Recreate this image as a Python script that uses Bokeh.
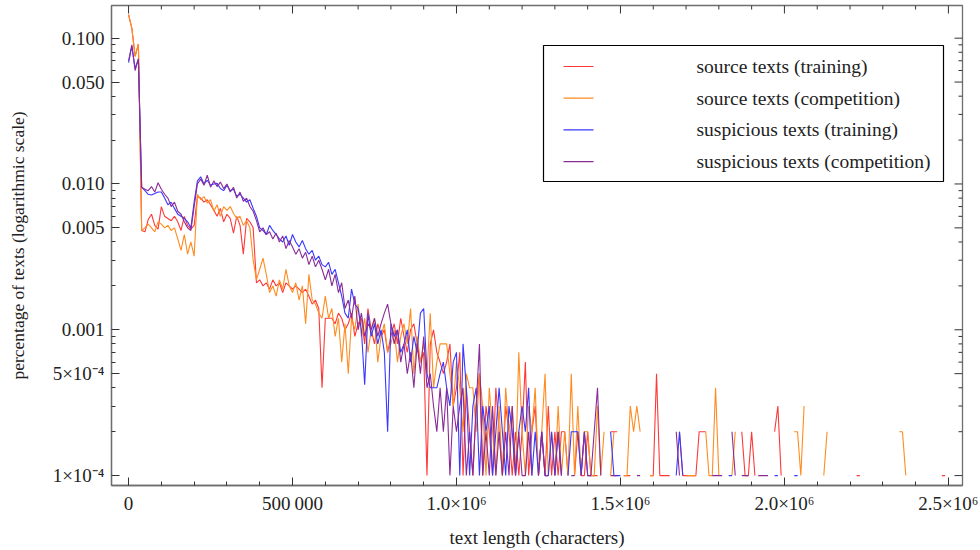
import math
from bokeh.plotting import figure
from bokeh.models import (ColumnDataSource, Range1d, FixedTicker, BoxAnnotation, Label, Arrow)
from bokeh.embed import file_html
from bokeh.resources import INLINE

N = None
BIN = 10000          # text-length bin width (characters)
NBINS = 255

# ---- series values (fraction of texts per 10 000-character bin; None = empty bin) ----
source_training = [
    0.145, 0.117, 0.075, 0.091, 0.0048, 0.0047, 0.0057, 0.0062, 0.0052, 0.0049,
    0.0070, 0.0060, 0.0058, 0.0056, 0.0060, 0.0055, 0.0048, 0.0060, 0.0052, 0.0049,
    0.0052, 0.0082, 0.0080, 0.0075, 0.0078, 0.0072, 0.0066, 0.0060, 0.0068, 0.0055,
    0.0062, 0.0058, 0.0046, 0.0060, 0.0052, 0.0033, 0.0058, 0.0055, 0.0050, 0.0021,
    0.0022, 0.0020, 0.0021, 0.0019, 0.0022, 0.0020, 0.0021, 0.0018, 0.0021, 0.0020,
    0.0019, 0.0020, 0.0019, 0.0018, 0.0019, 0.0017, 0.0015, 0.0016, 0.0014, 0.0004,
    0.0012, 0.0012, 0.0012, 0.0011, 0.0013, 0.0012, 0.0010, 0.0011, 0.0013, 0.0009,
    0.0011, 0.0012, 0.0008, 0.0014, 0.0010, 0.0008, 0.0011, 0.0009, 0.0010, 0.0007,
    0.0009, 0.0011, 0.0008, 0.0012, 0.0009, 0.0007, 0.0010, 0.0011, 0.0008, 0.0006,
    0.0007, 0.0001, 0.0008, 0.0010, 0.0007, 0.0006, 0.0005, 0.0006, 0.0008, 0.0003,
    0.0004, 0.0007, 0.0001, 0.0004, 0.0002, 0.0001, 0.0003, 0.0005, 0.0001, 0.0003,
    0.0002, 0.0001, 0.0004, 0.0002, 0.0001, 0.0003, 0.0002, 0.0001, 0.0002, 0.0001,
    0.0002, 0.0006, 0.0001, 0.0002, 0.0003, 0.0001, 0.0002, 0.0001, 0.0003, 0.0001,
    0.0002, 0.0001, 0.0002, 0.0002, 0.0001, N, 0.0001, 0.0002, 0.0001, 0.0001,
    0.0002, 0.0001, 0.0001, 0.0001, N, N, N, 0.0002, 0.0002, 0.0002,
    N, 0.0001, 0.0001, 0.0001, N, N, N, N, N, 0.0001,
    0.0001, 0.0005, 0.0001, 0.0001, 0.0001, 0.0001, N, N, 0.0002, 0.0001,
    0.0001, 0.0001, 0.0001, 0.0001, 0.0002, 0.0002, 0.0002, N, N, N,
    N, N, N, N, N, N, N, 0.0002, 0.0001, 0.0001,
    0.0002, 0.0001, N, N, N, N, N, 0.0002, 0.0003, 0.0001,
    N, N, N, N, N, N, N, N, N, N,
    N, N, N, N, N, N, N, N, N, N,
    N, N, 0.0001, 0.0001, N, N, N, N, N, N,
    N, N, N, N, N, N, N, N, N, N,
    N, N, N, N, N, N, N, N, 0.0001, 0.0001,
]

source_competition = [
    0.145, 0.117, 0.075, 0.091, 0.0048, 0.0050, 0.0053, 0.0050, 0.0047, 0.0055,
    0.0053, 0.0050, 0.0052, 0.0048, 0.0050, 0.0042, 0.0035, 0.0045, 0.0033, 0.0040,
    0.0032, 0.0085, 0.0078, 0.0082, 0.0074, 0.0078, 0.0065, 0.0072, 0.0060, 0.0070,
    0.0066, 0.0070, 0.0063, 0.0058, 0.0060, 0.0052, 0.0056, 0.0050, 0.0030, 0.0022,
    0.0026, 0.0031, 0.0024, 0.0018, 0.0020, 0.0017, 0.0022, 0.0019, 0.0026, 0.0020,
    0.0018, 0.0021, 0.0016, 0.0020, 0.0011, 0.0024, 0.0016, 0.0015, 0.0013, 0.0012,
    0.0017, 0.0012, 0.0014, 0.0009, 0.0012, 0.0006, 0.0011, 0.0005, 0.0012, 0.0010,
    0.0015, 0.0009, 0.0012, 0.0007, 0.0010, 0.0012, 0.0006, 0.0009, 0.0011, 0.0007,
    0.0008, 0.0010, 0.0006, 0.0009, 0.0011, 0.0008, 0.0014, 0.0005, 0.0009, 0.0006,
    0.0008, 0.0005, 0.0013, 0.0004, 0.0006, 0.0008, 0.0008, 0.0008, 0.0005, 0.0003,
    0.0006, 0.0004, 0.0002, 0.0005, 0.0004, 0.0004, 0.0002, 0.0005, 0.0003, 0.0001,
    0.0004, 0.0002, 0.0001, 0.0003, 0.0001, 0.0004, 0.0002, 0.0003, 0.0001, 0.0007,
    0.0002, 0.0001, 0.0003, 0.0002, 0.0004, 0.0001, 0.0002, 0.0005, 0.0001, 0.0002,
    0.0001, 0.0003, 0.0001, 0.0002, 0.0001, 0.0005, 0.0001, 0.0003, 0.0001, 0.0002,
    0.0002, 0.0001, 0.0001, 0.0003, 0.0001, 0.0002, N, 0.0001, 0.0002, N,
    N, 0.0001, 0.0001, 0.0003, 0.0002, 0.0003, 0.0002, N, N, 0.0001,
    0.0001, N, N, N, N, N, N, N, N, N,
    0.0001, 0.0001, 0.0001, 0.0001, N, N, 0.0002, 0.0001, 0.0001, 0.0004,
    0.0001, N, N, N, 0.0001, 0.0002, N, N, N, N,
    N, N, N, N, N, N, N, N, N, N,
    N, N, N, 0.0002, 0.0002, 0.0001, 0.0003, N, N, N,
    N, N, 0.0001, 0.0002, N, N, N, N, N, N,
    N, N, N, N, N, N, N, N, N, N,
    N, N, N, N, N, 0.0002, 0.0002, 0.0001, N, N,
]

suspicious_training = [
    0.068, 0.088, 0.062, 0.072, 0.0095, 0.0090, 0.0085, 0.0084, 0.0086, 0.0088,
    0.0088, 0.0080, 0.0072, 0.0075, 0.0068, 0.0062, 0.0060, 0.0058, 0.0055, 0.0050,
    0.0075, 0.0105, 0.0112, 0.0100, 0.0106, 0.0098, 0.0100, 0.0101, 0.0093, 0.0090,
    0.0098, 0.0090, 0.0092, 0.0082, 0.0085, 0.0080, 0.0075, 0.0078, 0.0068, 0.0060,
    0.0050, 0.0048, 0.0045, 0.0052, 0.0048, 0.0045, 0.0042, 0.0040, 0.0044, 0.0038,
    0.0045, 0.0040, 0.0037, 0.0041, 0.0036, 0.0033, 0.0035, 0.0030, 0.0032, 0.0028,
    0.0027, 0.0029, 0.0024, 0.0026, 0.0021, 0.0017, 0.0013, 0.0012, 0.0019, 0.0015,
    0.0014, 0.0010, 0.00042, 0.0013, 0.0009, 0.0011, 0.0008, 0.0010, 0.0007, 0.0002,
    0.0011, 0.0009, 0.0010, 0.0007, 0.0008, 0.0010, 0.0006, 0.0009, 0.0007, 0.0013,
    0.0014, 0.0005, 0.0004, 0.0004, 0.0004, 0.0005, 0.0006, 0.0004, 0.0003, 0.0006,
    0.0007, 0.0001, 0.0008, 0.0004, 0.0001, 0.0003, 0.0004, 0.0001, 0.0003, 0.0002,
    0.0003, 0.0001, 0.0002, 0.0004, 0.0002, 0.0001, 0.0003, 0.0002, 0.0001, 0.0002,
    0.0003, 0.0002, 0.0004, 0.0001, 0.0002, 0.0001, 0.0002, 0.0001, 0.0001, 0.0002,
    0.0001, 0.0002, 0.0001, N, 0.0001, 0.0002, 0.0002, 0.0002, 0.0001, 0.0002,
    0.0001, 0.0001, N, N, N, N, N, 0.0002, 0.0001, 0.0001,
    0.0001, N, N, N, N, N, N, N, N, N,
    N, N, N, N, N, N, N, 0.0001, 0.0002, 0.0001,
    N, N, N, N, N, N, N, N, N, N,
    N, N, N, 0.0001, 0.0001, N, N, N, N, N,
    N, N, N, N, N, N, N, 0.0001, 0.0001, N,
    N, N, N, 0.0001, 0.0001, N, N, N, N, N,
]

suspicious_competition = [
    0.070, 0.090, 0.060, 0.072, 0.0095, 0.0092, 0.0090, 0.0096, 0.0088, 0.0102,
    0.0092, 0.0085, 0.0080, 0.0070, 0.0075, 0.0065, 0.0062, 0.0055, 0.0050, 0.0048,
    0.0070, 0.0100, 0.0108, 0.0098, 0.0115, 0.0095, 0.0105, 0.0096, 0.0103, 0.0093,
    0.0100, 0.0088, 0.0095, 0.0080, 0.0088, 0.0076, 0.0080, 0.0070, 0.0065, 0.0056,
    0.0047, 0.0050, 0.0045, 0.0047, 0.0042, 0.0046, 0.0040, 0.0044, 0.0036, 0.0041,
    0.0037, 0.0033, 0.0036, 0.0031, 0.0034, 0.0028, 0.0032, 0.0027, 0.0030, 0.0026,
    0.0022, 0.0026, 0.0020, 0.0024, 0.0018, 0.0021, 0.0014, 0.0016, 0.0012, 0.0017,
    0.0010, 0.0013, 0.0009, 0.0011, 0.0010, 0.0012, 0.0009, 0.0011, 0.0013, 0.0015,
    0.0011, 0.0008, 0.0010, 0.0006, 0.0008, 0.0005, 0.0007, 0.0004, 0.0008, 0.0005,
    0.0009, 0.0004, 0.0005, 0.0003, 0.0002, 0.0004, 0.0002, 0.0004, 0.0001, 0.0003,
    0.0002, 0.0003, 0.0004, 0.0001, 0.0002, 0.0001, 0.0003, 0.0008, 0.0001, 0.0002,
    0.0001, 0.0003, 0.0001, 0.0002, 0.0001, 0.0002, 0.0001, 0.0003, 0.0001, 0.0002,
    0.0001, 0.0001, 0.0002, 0.0001, N, 0.0001, 0.0002, 0.0001, 0.0001, N,
    0.0001, 0.0002, 0.0001, N, N, 0.0001, 0.0001, N, 0.0001, 0.0002,
    0.0001, 0.0001, 0.0002, 0.0004, 0.0001, N, N, 0.0001, 0.0001, 0.0001,
    N, N, N, N, N, 0.0001, 0.0001, N, N, N,
    N, N, N, N, N, N, N, 0.0002, 0.0001, N,
    N, N, N, N, N, N, N, N, 0.0001, 0.0001,
    0.0001, 0.0001, N, N, 0.0002, 0.0001, N, 0.0001, 0.0001, 0.0001,
    N, N, 0.0001, 0.0001, 0.0001, 0.0001, N, N, N, N,
]

series_names = ["source texts (training)", "source texts (competition)",
                "suspicious texts (training)", "suspicious texts (competition)"]
series_colors = ["#ff3838", "#ff8c20", "#3838ff", "#8a2c98"]

# ---- tick labels ----
x_ticks = [0, 500000, 1000000, 1500000, 2000000, 2500000]
x_tick_labels = ["0", "500\u2009000", "1.0\u00d710\u2076", "1.5\u00d710\u2076",
                 "2.0\u00d710\u2076", "2.5\u00d710\u2076"]
y_ticks = [0.0001, 0.0005, 0.001, 0.005, 0.01, 0.05, 0.1]
y_tick_labels = ["1\u00d710\u207b\u2074", "5\u00d710\u207b\u2074", "0.001", "0.005",
                 "0.010", "0.050", "0.100"]

x_minor = [k * 100000 for k in range(0, 26) if k % 5 != 0]
y_minor = [m * 10.0 ** e for e in (-4, -3, -2, -1) for m in (2, 3, 4, 6, 7, 8, 9)]

X0, X1 = -52000, 2543000
Y0, Y1 = 8.55e-5, 0.1675

FONT = "Liberation Serif"
TXT = "#222222"
FRAME = "#6e6e6e"
TICK = "#333333"


def prep(vals):
    vals = list(vals) + [None] * (NBINS - len(vals))
    xs = [i * BIN for i in range(NBINS)]
    ys = [float("nan") if v is None else v for v in vals]
    return ColumnDataSource(dict(x=xs, y=ys))


p = figure(width=980, height=550, output_backend="svg", toolbar_location=None,
           y_axis_type="log",
           x_range=Range1d(X0, X1), y_range=Range1d(Y0, Y1),
           min_border_left=111, min_border_right=18, min_border_top=5,
           min_border_bottom=62)
p.xgrid.grid_line_color = None
p.ygrid.grid_line_color = None
p.outline_line_color = FRAME
p.outline_line_width = 1.3
p.background_fill_color = "white"
p.border_fill_color = "white"

for vals, col in zip([source_training, source_competition,
                      suspicious_training, suspicious_competition], series_colors):
    p.line("x", "y", source=prep(vals), line_color=col, line_width=1.1)

xt = FixedTicker(ticks=x_ticks, minor_ticks=x_minor)
yt = FixedTicker(ticks=y_ticks, minor_ticks=y_minor)

# inward ticks on the top and right edges of the frame
p.ray(x=x_ticks, y=[Y1] * len(x_ticks), length=8, angle=-math.pi / 2,
      length_units="screen", line_color=TICK, line_width=1)
p.ray(x=x_minor, y=[Y1] * len(x_minor), length=4, angle=-math.pi / 2,
      length_units="screen", line_color=TICK, line_width=1)
p.ray(x=[X1] * len(y_ticks), y=y_ticks, length=8, angle=math.pi,
      length_units="screen", line_color=TICK, line_width=1)
p.ray(x=[X1] * len(y_minor), y=y_minor, length=4, angle=math.pi,
      length_units="screen", line_color=TICK, line_width=1)


def style_axis(ax):
    ax.axis_line_color = FRAME
    ax.axis_line_width = 1.3
    ax.major_tick_in = 8
    ax.major_tick_out = 0
    ax.minor_tick_in = 4
    ax.minor_tick_out = 0
    ax.major_tick_line_color = TICK
    ax.minor_tick_line_color = TICK
    ax.major_label_text_font = FONT
    ax.major_label_text_font_size = "19px"
    ax.major_label_text_color = TXT
    ax.axis_label_text_font = FONT
    ax.axis_label_text_font_style = "normal"
    ax.axis_label_text_color = TXT


xa = p.xaxis[0]
xa.ticker = xt
xa.major_label_overrides = dict(zip(x_ticks, x_tick_labels))
xa.axis_label = "text length (characters)"
style_axis(xa)
xa.axis_label_text_font_size = "19px"
xa.major_label_standoff = 7
xa.axis_label_standoff = 10

ya = p.yaxis[0]
ya.ticker = yt
ya.major_label_overrides = dict(zip(y_ticks, y_tick_labels))
ya.axis_label = "percentage of texts (logarithmic scale)"
style_axis(ya)
ya.axis_label_text_font_size = "17.5px"
ya.major_label_standoff = 7
ya.axis_label_standoff = 22

# ---- legend box (screen units, measured from the frame's lower-left corner) ----
LEG_L, LEG_R, LEG_T, LEG_B = 432, 832, 440, 304
ROW0, ROW_STEP = 419, 31.7
SW_X0, SW_X1, TXT_X = 452, 482, 585

p.add_layout(BoxAnnotation(left=LEG_L, right=LEG_R, top=LEG_T, bottom=LEG_B,
                           left_units="screen", right_units="screen",
                           top_units="screen", bottom_units="screen",
                           fill_color="white", fill_alpha=1.0,
                           line_color="#000000", line_width=1.2, line_alpha=1.0))
for i, (name, col) in enumerate(zip(series_names, series_colors)):
    yc = ROW0 - ROW_STEP * i
    p.add_layout(Arrow(x_start=SW_X0, y_start=yc, x_end=SW_X1, y_end=yc,
                       start_units="screen", end_units="screen",
                       start=None, end=None, line_color=col, line_width=1.2))
    p.add_layout(Label(x=TXT_X, y=yc, x_units="screen", y_units="screen", text=name,
                       text_font=FONT, text_font_size="19.5px", text_color=TXT,
                       text_baseline="middle", text_align="left"))

open("out.html", "w").write(file_html(p, INLINE))
